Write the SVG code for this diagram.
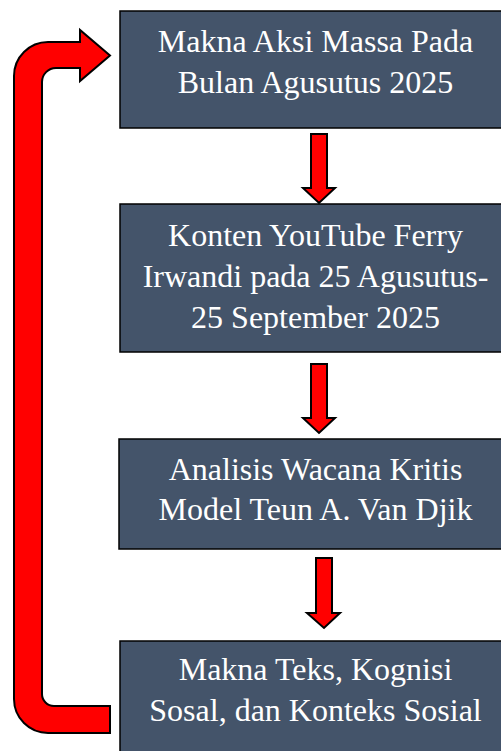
<svg xmlns="http://www.w3.org/2000/svg" width="501" height="751" viewBox="0 0 501 751">
<style>
.box{fill:#44546A;stroke:#000;stroke-width:1.5}
.t{font-family:'Liberation Serif','Times New Roman',serif;font-size:32px;fill:#fff;text-anchor:middle}
.arr{fill:#FF0000;stroke:#000;stroke-width:2;stroke-linejoin:miter}
</style>
<rect width="501" height="751" fill="#fff"/>
<g id="node1">
<rect class="box" x="120" y="11" width="392" height="117" stroke-width="2.5"/>
<text class="t" x="315.5" y="52">Makna Aksi Massa Pada</text>
<text class="t" x="315.5" y="93">Bulan Agusutus 2025</text>
</g>
<g id="node2">
<rect class="box" x="120" y="204" width="392" height="148"/>
<text class="t" x="315.5" y="246">Konten YouTube Ferry</text>
<text class="t" x="315.5" y="287">Irwandi pada 25 Agusutus-</text>
<text class="t" x="315.5" y="328">25 September 2025</text>
</g>
<g id="node3">
<rect class="box" x="119" y="439" width="392" height="110"/>
<text class="t" x="315.5" y="480">Analisis Wacana Kritis</text>
<text class="t" x="315.5" y="520">Model Teun A. Van Djik</text>
</g>
<g id="node4">
<rect class="box" x="120" y="641" width="392" height="120"/>
<text class="t" x="315.5" y="680">Makna Teks, Kognisi</text>
<text class="t" x="315.5" y="721">Sosal, dan Konteks Sosial</text>
</g>
<g id="connectors">
<path class="arr" d="M311,134 H327 V188 H335 L319,203 L303,188 H311 Z"/>
<path class="arr" d="M311,364 H327 V418 H335 L319,433 L303,418 H311 Z"/>
<path class="arr" d="M316,558 H332 V613 H340 L324,628 L307,613 H316 Z"/>
<path class="arr" d="M110,733 H48 A34,34 0 0 1 14,699 V76 A34,34 0 0 1 48,42 H80 V30 L110,55.5 L80,81 V68 H56 A14,14 0 0 0 42,82 V694 A12,12 0 0 0 54,706 H110 Z"/>
</g>
</svg>
